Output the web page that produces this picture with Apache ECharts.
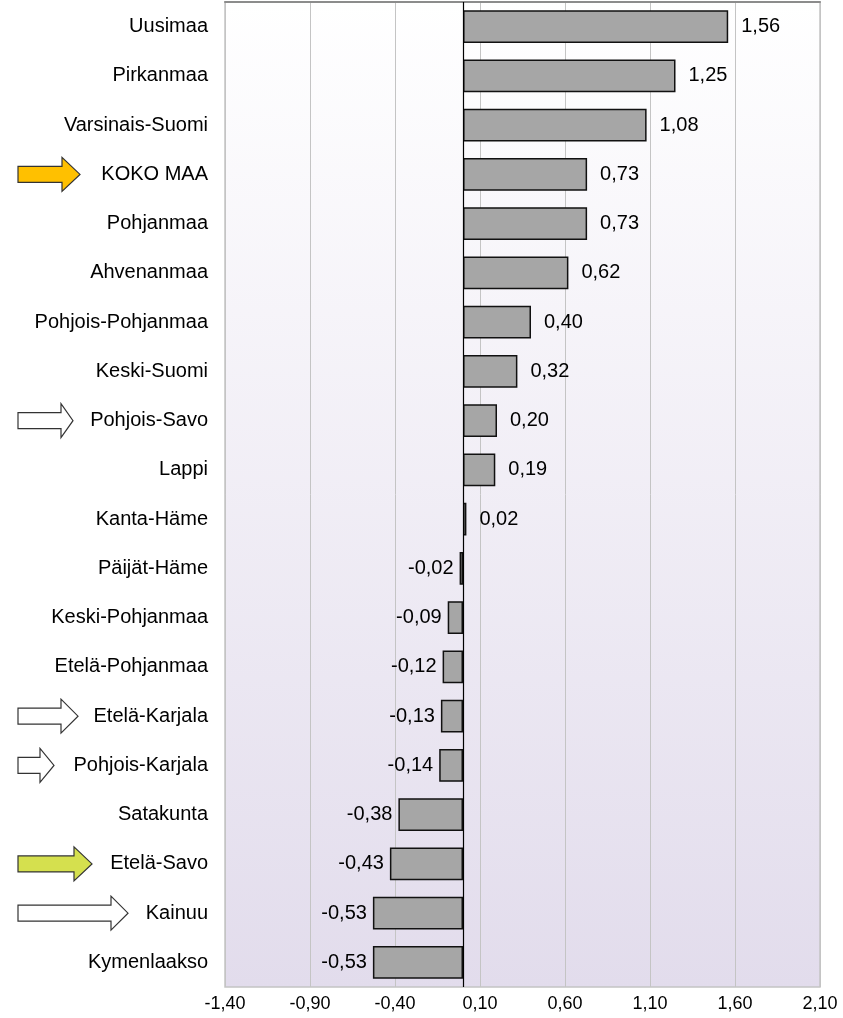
<!DOCTYPE html>
<html>
<head>
<meta charset="utf-8">
<script src="https://cdn.jsdelivr.net/npm/echarts@6/dist/echarts.min.js"></script>
<style>
  html, body { margin: 0; padding: 0; background: #ffffff; }
  #chart { width: 843px; height: 1018px; }
</style>
</head>
<body>
<div id="chart"></div>
<script>
const categories = [
  'Uusimaa', 'Pirkanmaa', 'Varsinais-Suomi', 'KOKO MAA', 'Pohjanmaa',
  'Ahvenanmaa', 'Pohjois-Pohjanmaa', 'Keski-Suomi', 'Pohjois-Savo', 'Lappi',
  'Kanta-Häme', 'Päijät-Häme', 'Keski-Pohjanmaa', 'Etelä-Pohjanmaa', 'Etelä-Karjala',
  'Pohjois-Karjala', 'Satakunta', 'Etelä-Savo', 'Kainuu', 'Kymenlaakso'
];
const values = [
  1.56, 1.25, 1.08, 0.73, 0.73,
  0.62, 0.40, 0.32, 0.20, 0.19,
  0.02, -0.02, -0.09, -0.12, -0.13,
  -0.14, -0.38, -0.43, -0.53, -0.53
];
const xTickLabels = ['-1,40', '-0,90', '-0,40', '0,10', '0,60', '1,10', '1,60', '2,10'];
const xMin = -1.4, xMax = 2.1, xStep = 0.5;

// Highlight arrows (decoration): category, fill colour, tip x, head length
const arrowStyles = [
  { cat: 'KOKO MAA',        fill: '#FFC000', tip: 80,  head: 18 },
  { cat: 'Pohjois-Savo',    fill: '#FFFFFF', tip: 73,  head: 12 },
  { cat: 'Etelä-Karjala',   fill: '#FFFFFF', tip: 78,  head: 17 },
  { cat: 'Pohjois-Karjala', fill: '#FFFFFF', tip: 54,  head: 14 },
  { cat: 'Etelä-Savo',      fill: '#D5E04E', tip: 92,  head: 18 },
  { cat: 'Kainuu',          fill: '#FFFFFF', tip: 128, head: 17 }
];

const FONT = '"Liberation Sans", Arial, sans-serif';
const fmt = v => v.toFixed(2).replace('.', ',');

const chart = echarts.init(document.getElementById('chart'), null, { renderer: 'canvas' });

const barData = values.map(v => ({
  value: v,
  label: v >= 0 ? { position: 'right', distance: 13 } : { position: 'left', distance: 6 }
}));

const option = {
  animation: false,
  backgroundColor: '#ffffff',
  grid: {
    left: 225, right: 23, top: 2, bottom: 31,
    show: true,
    borderColor: '#c4c4c4',
    borderWidth: 1.5,
    backgroundColor: {
      type: 'linear', x: 0, y: 0, x2: 0, y2: 1,
      colorStops: [
        { offset: 0, color: '#ffffff' },
        { offset: 1, color: '#e2dcec' }
      ]
    }
  },
  xAxis: [{
    type: 'value',
    min: xMin, max: xMax, interval: xStep,
    axisLine: { show: false },
    axisTick: { show: false },
    splitLine: { show: true, lineStyle: { color: '#c4c4c4', width: 1 } },
    axisLabel: {
      color: '#000', fontFamily: FONT, fontSize: 18, margin: 8,
      formatter: (v, i) => xTickLabels[i] !== undefined ? xTickLabels[i] : fmt(v)
    }
  }, {
    type: 'value', position: 'top',
    min: xMin, max: xMax, interval: xStep,
    axisLine: { show: true, lineStyle: { color: '#8c8c8c', width: 2 } },
    axisTick: { show: false }, axisLabel: { show: false }, splitLine: { show: false }
  }],
  yAxis: {
    type: 'category',
    data: categories,
    inverse: true,
    axisLine: { show: false },
    axisTick: { show: false },
    splitLine: { show: false },
    axisLabel: { color: '#000', fontFamily: FONT, fontSize: 20, margin: 17 }
  },
  series: [{
    type: 'bar',
    data: barData,
    barCategoryGap: '33%',
    itemStyle: { color: '#a6a6a6', borderColor: '#111111', borderWidth: 1.5 },
    label: {
      show: true, color: '#000', fontFamily: FONT, fontSize: 20,
      formatter: p => fmt(p.value)
    },
    markLine: {
      silent: true, symbol: 'none', animation: false,
      label: { show: false },
      lineStyle: { color: '#000', type: 'solid', width: 1.2 },
      data: [{ xAxis: 0 }]
    },
    z: 3
  }]
};

chart.setOption(option);

function drawArrows() {
  const shaftX = 18, shaftHalf = 8, headHalf = 17;
  const elements = arrowStyles.map(a => {
    const cy = chart.convertToPixel({ yAxisIndex: 0 }, a.cat);
    const hx = a.tip - a.head;
    return {
      type: 'polygon',
      shape: {
        points: [
          [shaftX, cy - shaftHalf], [hx, cy - shaftHalf], [hx, cy - headHalf],
          [a.tip, cy], [hx, cy + headHalf], [hx, cy + shaftHalf], [shaftX, cy + shaftHalf]
        ]
      },
      style: { fill: a.fill, stroke: '#333333', lineWidth: 1.2 },
      z: 10
    };
  });
  chart.setOption({ graphic: elements });
}
drawArrows();
</script>
</body>
</html>
